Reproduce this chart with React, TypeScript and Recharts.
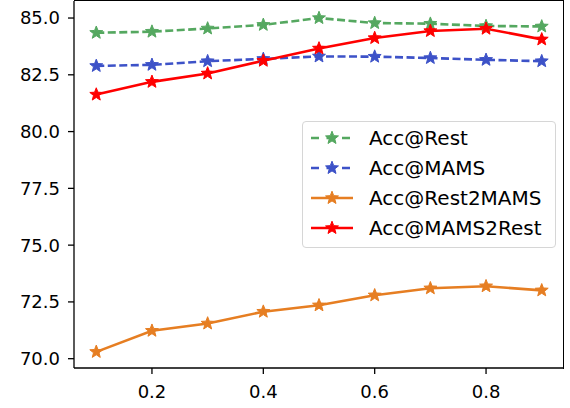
import React from 'react';
import { LineChart, Line, XAxis, YAxis, Legend } from 'recharts';

const ratios = [0.1, 0.2, 0.3, 0.4, 0.5, 0.6, 0.7, 0.8, 0.9];
const accRest = [84.35, 84.4, 84.54, 84.7, 85.0, 84.78, 84.75, 84.65, 84.63];
const accMams = [82.89, 82.94, 83.1, 83.2, 83.31, 83.3, 83.24, 83.16, 83.1];
const accRest2Mams = [70.3, 71.23, 71.55, 72.07, 72.35, 72.79, 73.1, 73.19, 73.01];
const accMams2Rest = [81.63, 82.19, 82.56, 83.12, 83.66, 84.12, 84.43, 84.53, 84.06];
const xTicks = [0.2, 0.4, 0.6, 0.8];
const yTicks = [70, 72.5, 75, 77.5, 80, 82.5, 85];
const xDomain = [0.06, 0.94];
const yDomain = [69.59, 85.75];

const data = ratios.map((r, i) => ({
  r,
  rest: accRest[i],
  mams: accMams[i],
  rest2mams: accRest2Mams[i],
  mams2rest: accMams2Rest[i],
}));

const series = [
  { key: 'rest', name: 'Acc@Rest', color: '#55a860', dash: '8 3.5' },
  { key: 'mams', name: 'Acc@MAMS', color: '#3d52c8', dash: '8 3.5' },
  { key: 'rest2mams', name: 'Acc@Rest2MAMS', color: '#e67e22', dash: undefined },
  { key: 'mams2rest', name: 'Acc@MAMS2Rest', color: '#ff0000', dash: undefined },
];

const FONT = '"DejaVu Sans", sans-serif';

function starPoints(cx: number, cy: number, R: number, r: number) {
  const pts: string[] = [];
  for (let i = 0; i < 10; i++) {
    const ang = -Math.PI / 2 + (i * Math.PI) / 5;
    const rad = i % 2 === 0 ? R : r;
    pts.push(`${cx + rad * Math.cos(ang)},${cy + rad * Math.sin(ang)}`);
  }
  return pts.join(' ');
}

const makeStar = (color: string) => (props: any) => {
  const { cx, cy, index } = props;
  if (cx == null || cy == null) return <g key={index} />;
  return (
    <polygon
      key={index}
      points={starPoints(cx, cy, 6.8, 2.9)}
      fill={color}
      stroke={color}
      strokeWidth={1}
      strokeLinejoin="round"
    />
  );
};

const LegendBox = () => (
  <div
    style={{
      width: 252,
      height: 125,
      border: '1px solid #d6d6d6',
      borderRadius: 4,
      background: 'rgba(255,255,255,0.85)',
      fontFamily: FONT,
      fontSize: 20,
      color: '#000',
      position: 'relative',
    }}
  >
    {series.map((s, i) => (
      <div
        key={s.key}
        style={{ position: 'absolute', left: 0, top: 16 + i * 30 - 15, height: 30, width: 252 }}
      >
        <svg width={60} height={30} style={{ position: 'absolute', left: 0, top: 0 }}>
          <line
            x1={8}
            y1={15}
            x2={50}
            y2={15}
            stroke={s.color}
            strokeWidth={2.6}
            strokeDasharray={s.dash ? '8 7.5' : undefined}
          />
          <polygon points={starPoints(29, 15, 6.8, 2.9)} fill={s.color} stroke={s.color} strokeWidth={1} strokeLinejoin="round" />
        </svg>
        <span style={{ position: 'absolute', left: 66, top: 0, lineHeight: '30px', whiteSpace: 'nowrap' }}>{s.name}</span>
      </div>
    ))}
  </div>
);

export default function App() {
  return (
    <div style={{ position: 'absolute', left: 0, top: 0, width: 570, height: 408, background: '#fff' }}>
      <LineChart width={570} height={408} data={data} margin={{ top: 1, right: 6, bottom: 0, left: 0 }}>
        <XAxis
          dataKey="r"
          type="number"
          domain={xDomain}
          ticks={xTicks}
          tickFormatter={(v: number) => v.toFixed(1)}
          height={40}
          tickSize={6}
          tickMargin={11}
          stroke="#000"
          strokeWidth={1.3}
          tick={{ fill: '#000', fontSize: 18, fontFamily: FONT }}
          allowDataOverflow
        />
        <YAxis
          type="number"
          domain={yDomain}
          ticks={yTicks}
          tickFormatter={(v: number) => v.toFixed(1)}
          width={74}
          tickSize={6}
          tickMargin={8}
          stroke="#000"
          strokeWidth={1.3}
          tick={{ fill: '#000', fontSize: 18, fontFamily: FONT }}
          allowDataOverflow
        />
        {series.map((s) => (
          <Line
            key={s.key}
            dataKey={s.key}
            name={s.name}
            stroke={s.color}
            strokeWidth={2.6}
            strokeDasharray={s.dash}
            dot={makeStar(s.color)}
            activeDot={false}
            isAnimationActive={false}
            type="linear"
          />
        ))}
        <Legend
          layout="vertical"
          align="center"
          verticalAlign="middle"
          content={() => <LegendBox />}
          wrapperStyle={{ left: 302, top: 121, width: 254, height: 127 }}
        />
      </LineChart>
      <div
        style={{
          position: 'absolute',
          left: 74,
          top: 0.35,
          width: 489.35,
          height: 367.65,
          borderTop: '1.3px solid #000',
          borderRight: '1.3px solid #000',
          pointerEvents: 'none',
        }}
      />
    </div>
  );
}
